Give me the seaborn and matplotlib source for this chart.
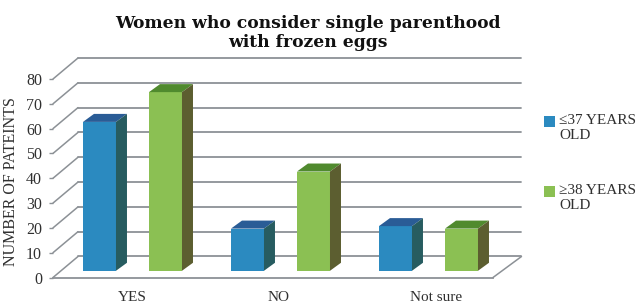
# Women who consider single parenthood with frozen eggs
# fake 3D bar chart, seaborn draws the bar fronts, depth added after

import pandas as pd
import matplotlib
matplotlib.use("Agg")
import matplotlib.pyplot as plt
import seaborn as sns
from matplotlib.patches import Polygon

categories = ["YES", "NO", "Not sure"]
young_label = "≤37 YEARS\nOLD"
old_label = "≥38 YEARS\nOLD"
young_values = [60, 17, 18]
old_values = [72, 40, 17]
y_ticks = [0, 10, 20, 30, 40, 50, 60, 70, 80]

W, H = 640, 306
GREY = "#8c9196"
TEXT = "#303030"

# face, top, side
COLORS = {
	young_label: ("#2b8ac0", "#2a5c96", "#275c60"),
	old_label: ("#8bc053", "#508a2e", "#5c5e30"),
}

df = pd.DataFrame({
	"answer": categories * 2,
	"group": [young_label] * 3 + [old_label] * 3,
	"count": young_values + old_values,
})

sns.set_theme(style="white", font="Liberation Serif")
plt.rcParams["font.family"] = ["Liberation Serif", "DejaVu Serif"]

fig = plt.figure(figsize=(W / 100, H / 100), dpi=100)
ax = fig.add_axes([53 / W, 1 - 277.5 / H, 440 / W, 198.5 / H])

sns.barplot(
	data=df,
	x="answer",
	y="count",
	hue="group",
	palette={k: v[0] for k, v in COLORS.items()},
	width=0.892,
	gap=0.5,
	saturation=1,
	linewidth=0,
	zorder=3,
	ax=ax
)

ax.set_xlim(-0.483, 2.49)
ax.set_ylim(0, 80)

# one unit of depth in data coordinates
DX = 25 / 148
DY = 21 / 2.48
BAR_FRONT = 0.32
BAR_DX = 11 / 148
BAR_DY = 8 / 2.48

x_left, x_right = ax.get_xlim()
wall_right = x_right + 28.5 / 148

# floor, back wall lines and the diagonals on the left
for v in y_ticks:
	ax.plot([x_left, x_left + DX], [v, v + DY], color=GREY, lw=1.1, clip_on=False, zorder=1)
	ax.plot([x_left + DX, wall_right], [v + DY, v + DY], color=GREY, lw=1.3, clip_on=False, zorder=1)
ax.plot([x_right, wall_right], [0, DY], color=GREY, lw=1.1, clip_on=False, zorder=1)

# push bars back on the floor and add the top and side faces
bar_groups = [young_label] * 3 + [old_label] * 3
for bar, group in zip(ax.patches, bar_groups):
	bar.set_x(bar.get_x() + BAR_FRONT * DX)
	bar.set_y(BAR_FRONT * DY)
	bar.set_clip_on(False)
	x0 = bar.get_x()
	x1 = x0 + bar.get_width()
	y0 = bar.get_y()
	y1 = y0 + bar.get_height()
	_, top_color, side_color = COLORS[group]
	ax.add_patch(Polygon(
		[(x0, y1), (x1, y1), (x1 + BAR_DX, y1 + BAR_DY), (x0 + BAR_DX, y1 + BAR_DY)],
		facecolor=top_color, edgecolor="none", clip_on=False, zorder=3
	))
	ax.add_patch(Polygon(
		[(x1, y0), (x1 + BAR_DX, y0 + BAR_DY), (x1 + BAR_DX, y1 + BAR_DY), (x1, y1)],
		facecolor=side_color, edgecolor="none", clip_on=False, zorder=3
	))

sns.despine(ax=ax, left=True, top=True, right=True)
ax.spines["bottom"].set_color(GREY)
ax.spines["bottom"].set_linewidth(1.3)

ax.set_yticks(y_ticks)
ax.set_xticks([0.055, 1.04, 2.105])
ax.set_xticklabels(categories)
ax.tick_params(axis="y", left=True, length=3, width=1, color=GREY, pad=5, labelsize=11.5, labelcolor=TEXT)
ax.tick_params(axis="x", bottom=False, pad=4, labelsize=11, labelcolor=TEXT)
ax.set_xlabel("")
ax.set_ylabel("NUMBER OF PATEINTS", fontsize=11.5, color=TEXT)
ax.yaxis.set_label_coords(-0.077, 0.485)

leg = ax.legend(
	loc="upper left",
	bbox_to_anchor=(544 / W, 1 - 114 / H),
	bbox_transform=fig.transFigure,
	frameon=False,
	fontsize=11,
	handlelength=0.75,
	handleheight=0.75,
	handletextpad=0.25,
	labelspacing=2.75,
	borderpad=0,
	borderaxespad=0,
	labelcolor=TEXT
)
# handle sits next to the first text line
for handle in leg.legend_handles:
	handle.set_y(handle.get_y() + 4.5)

fig.text(
	308 / W, 1 - 33 / H,
	"Women who consider single parenthood\nwith frozen eggs",
	ha="center", va="center", fontsize=12.3, fontweight="bold",
	family=["DejaVu Serif"], color="#111111", linespacing=1.2
)

fig.savefig("out.png", dpi=100)
